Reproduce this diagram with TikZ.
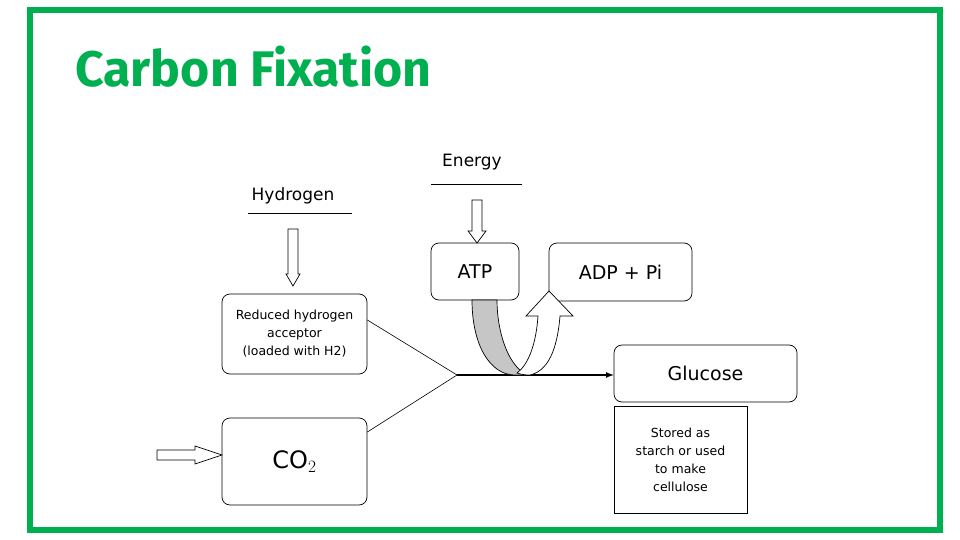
\documentclass[tikz,border=0pt]{standalone}
\usepackage{fontspec}
\setmainfont{DejaVu Sans}
\newfontfamily\titlefont{Fira Sans}
\begin{document}
\begin{tikzpicture}[x=1pt,y=-1pt,
  box/.style={draw,rounded corners=8pt,line width=0.7pt,fill=white},
  hollow/.style={draw,line width=0.7pt,fill=white},
  lab/.style={inner sep=0pt,font=\fontsize{19}{22}\selectfont}]
\definecolor{grn}{RGB}{0,176,80}
\useasboundingbox (0,0) rectangle (960,540);
\draw[grn,line width=6pt] (30,10) rectangle (940,530);
\node[anchor=base west,text=grn,inner sep=0pt,font=\titlefont\bfseries\fontsize{50}{56}\selectfont] (title) at (75,87) {Carbon Fixation};
% energy
\node[lab,font=\fontsize{17}{20}\selectfont] (energy) at (472,162) {Energy};
\coordinate (el1) at (431,184); \coordinate (el2) at (522,184);
\draw[line width=0.5pt] (el1) -- (el2);
\node[lab,font=\fontsize{17}{20}\selectfont] (hyd) at (293,196) {Hydrogen};
\coordinate (hl1) at (248,213); \coordinate (hl2) at (352,213);
\draw[line width=0.5pt] (hl1) -- (hl2);
% boxes
\node[box,minimum width=88pt,minimum height=57pt] (atp) at (475,271.5) {};
\node[lab] at (atp) {ATP};
\node[box,minimum width=143pt,minimum height=58pt] (adp) at (620.5,272) {};
\node[lab] at (adp) {ADP + Pi};
\node[box,minimum width=145pt,minimum height=80pt,align=center,font=\fontsize{12.5}{18}\selectfont] (red) at (294.5,334) {Reduced hydrogen\\acceptor\\(loaded with H2)};
\node[box,minimum width=145pt,minimum height=87pt] (co2) at (294.5,461.5) {};
\node[lab,font=\fontsize{24}{28}\selectfont] at (co2) {CO$_2$};
\node[box,minimum width=183pt,minimum height=57pt] (glu) at (705.5,373.5) {};
\node[lab] at (glu) {Glucose};
\node[draw,line width=0.7pt,minimum width=133pt,minimum height=107pt,align=center,font=\fontsize{12.5}{18}\selectfont] (stored) at (680.5,459.5) {Stored as\\starch or used\\to make\\cellulose};
% down arrows
\draw[hollow] (472,200) -- (482,200) -- (482,231) -- (486,231) -- (477,243) -- (468,231) -- (472,231) -- cycle;
\draw[hollow] (288,229) -- (298,229) -- (298,274) -- (300,274) -- (293,286) -- (286,274) -- (288,274) -- cycle;
\draw[hollow] (157,450) -- (195,450) -- (195,446) -- (222,455) -- (195,464) -- (195,460) -- (157,460) -- cycle;
% convergence
\coordinate (j) at (457,375);
\draw[line width=0.6pt] (red.east |- 0,320) -- (j);
\draw[line width=0.6pt] (co2.east |- 0,432) -- (j);
\draw[line width=1.6pt,-latex] (j) -- (glu.west |- j);
% curved arrows
\draw[line width=0.7pt,fill=gray!45] (472,300) .. controls (472,345) and (490,375) .. (515,375) -- (527,375) .. controls (507,365) and (497,330) .. (497,300) -- cycle;
\draw[hollow] (517,373) .. controls (523,375) and (527,375) .. (530,375) .. controls (552,370) and (558,340) .. (560,316) -- (573,316) -- (549,291) -- (526,316) -- (538,316) .. controls (536,345) and (528,365) .. (517,373) -- cycle;
\end{tikzpicture}
\end{document}
